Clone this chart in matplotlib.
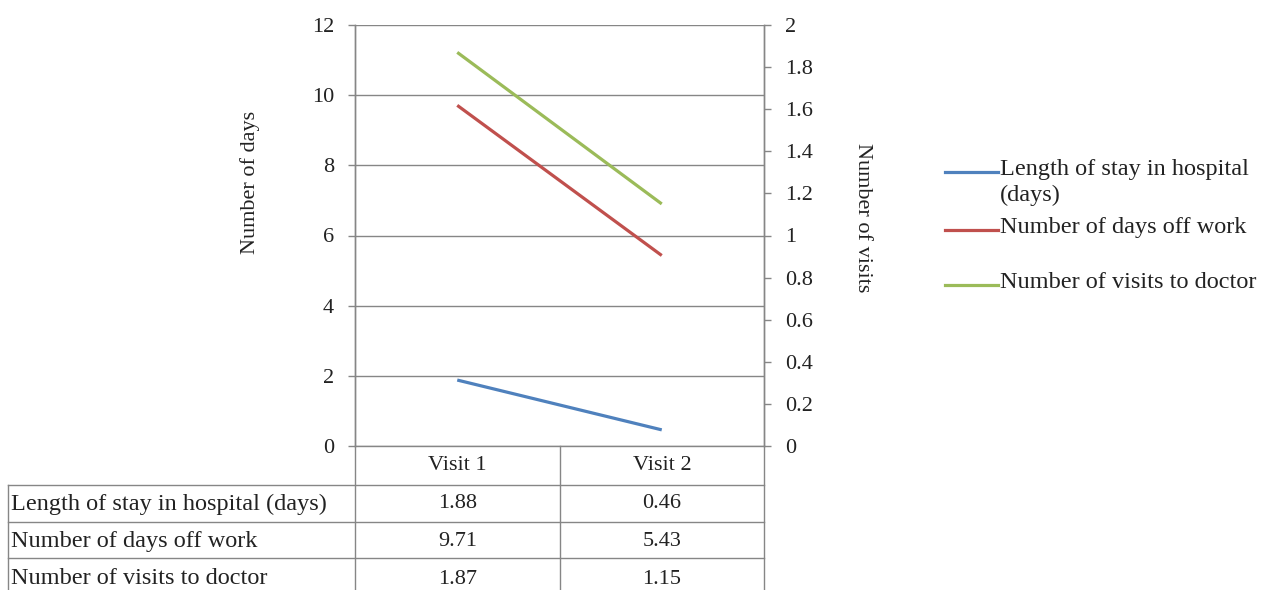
import numpy as np
import matplotlib
matplotlib.use("Agg")
import matplotlib.pyplot as plt
from matplotlib.lines import Line2D

plt.rcParams['font.family'] = ['Liberation Serif', 'DejaVu Serif']

visits = ["Visit 1", "Visit 2"]
hospital_stay = [1.88, 0.46]
days_off_work = [9.71, 5.43]
doctor_visits = [1.87, 1.15]
series_names = ["Length of stay in hospital (days)",
                "Number of days off work",
                "Number of visits to doctor"]
legend_names = ["Length of stay in hospital\n(days)",
                "Number of days off work",
                "Number of visits to doctor"]
colors = ["#4F81BD", "#C0504D", "#9BBB59"]

W, H = 1279, 590
fs = 16
fs_tab = 17.5
grid_c = "#868686"
text_c = "#222222"

fig = plt.figure(figsize=(W / 100, H / 100), dpi=100)


def fx(px):
    return px / W


def fy(py):
    return 1 - py / H


# plot area in pixels
x0, x1, ytop, ybot = 355, 764, 25, 446
ax = fig.add_axes([fx(x0), fy(ybot), fx(x1) - fx(x0), fy(ytop) - fy(ybot)])
ax2 = ax.twinx()

x = np.arange(len(visits))
ax.plot(x, hospital_stay, color=colors[0], lw=2.3, solid_capstyle='butt')
ax.plot(x, days_off_work, color=colors[1], lw=2.3, solid_capstyle='butt')
ax2.plot(x, doctor_visits, color=colors[2], lw=2.3, solid_capstyle='butt')

ax.set_xlim(-0.5, 1.5)
ax.set_ylim(0, 12)
ax.set_yticks(np.arange(0, 13, 2))
rt = np.round(np.arange(0, 2.01, 0.2), 1)
ax2.set_ylim(0, 2)
ax2.set_yticks(rt)
ax2.set_yticklabels([f"{v:g}" for v in rt])
ax.set_xticks([])

ax.grid(axis='y', color=grid_c, lw=1)
ax.set_axisbelow(True)
for a in (ax, ax2):
    for s in a.spines.values():
        s.set_color(grid_c)
        s.set_linewidth(1)
    a.spines['top'].set_visible(False)
    a.spines['bottom'].set_visible(False)
    a.tick_params(axis='y', colors=grid_c, labelcolor=text_c, labelsize=fs,
                  length=5, width=1, direction='out', pad=10)

fig.text(fx(250), fy(182), "Number of days", rotation=90, ha='center',
         va='center', fontsize=fs, color=text_c)
fig.text(fx(862), fy(218), "Number of visits", rotation=-90, ha='center',
         va='center', fontsize=fs, color=text_c)

# data table under the chart
col_x = [8, x0, 560, x1]
row_y = [ybot, 485, 522, 558, 600]
lc = dict(color=grid_c, lw=1, transform=fig.transFigure)
fig.add_artist(Line2D([fx(x0), fx(x1)], [fy(ybot), fy(ybot)], **lc))
for yy in row_y[1:-1]:
    fig.add_artist(Line2D([fx(col_x[0]), fx(col_x[-1])], [fy(yy), fy(yy)], **lc))
fig.add_artist(Line2D([fx(col_x[0])] * 2, [fy(row_y[1]), fy(row_y[-1])], **lc))
for cx in col_x[1:]:
    fig.add_artist(Line2D([fx(cx)] * 2, [fy(row_y[0]), fy(row_y[-1])], **lc))

for j, v in enumerate(visits):
    cx = (col_x[j + 1] + col_x[j + 2]) / 2
    fig.text(fx(cx), fy(466), v, ha='center', va='center', fontsize=fs,
             color=text_c)

table_vals = [hospital_stay, days_off_work, doctor_visits]
row_text_y = [504, 541, 579]
for name, vals, yc in zip(series_names, table_vals, row_text_y):
    fig.text(fx(11), fy(yc), name, ha='left', va='center', fontsize=fs_tab,
             color=text_c)
    for j, v in enumerate(vals):
        cx = (col_x[j + 1] + col_x[j + 2]) / 2
        fig.text(fx(cx), fy(yc), f"{v:.2f}", ha='center', va='center',
                 fontsize=fs, color=text_c)

# legend
leg_y = [172, 230, 285]
for name, c, ly in zip(legend_names, colors, leg_y):
    fig.add_artist(Line2D([fx(945), fx(998)], [fy(ly), fy(ly)], color=c,
                          lw=2.3, transform=fig.transFigure))
    fig.text(fx(1000), fy(ly - 13), name, ha='left', va='top',
             fontsize=fs_tab, color=text_c, linespacing=1.3)

fig.savefig("out.png", dpi=100)
